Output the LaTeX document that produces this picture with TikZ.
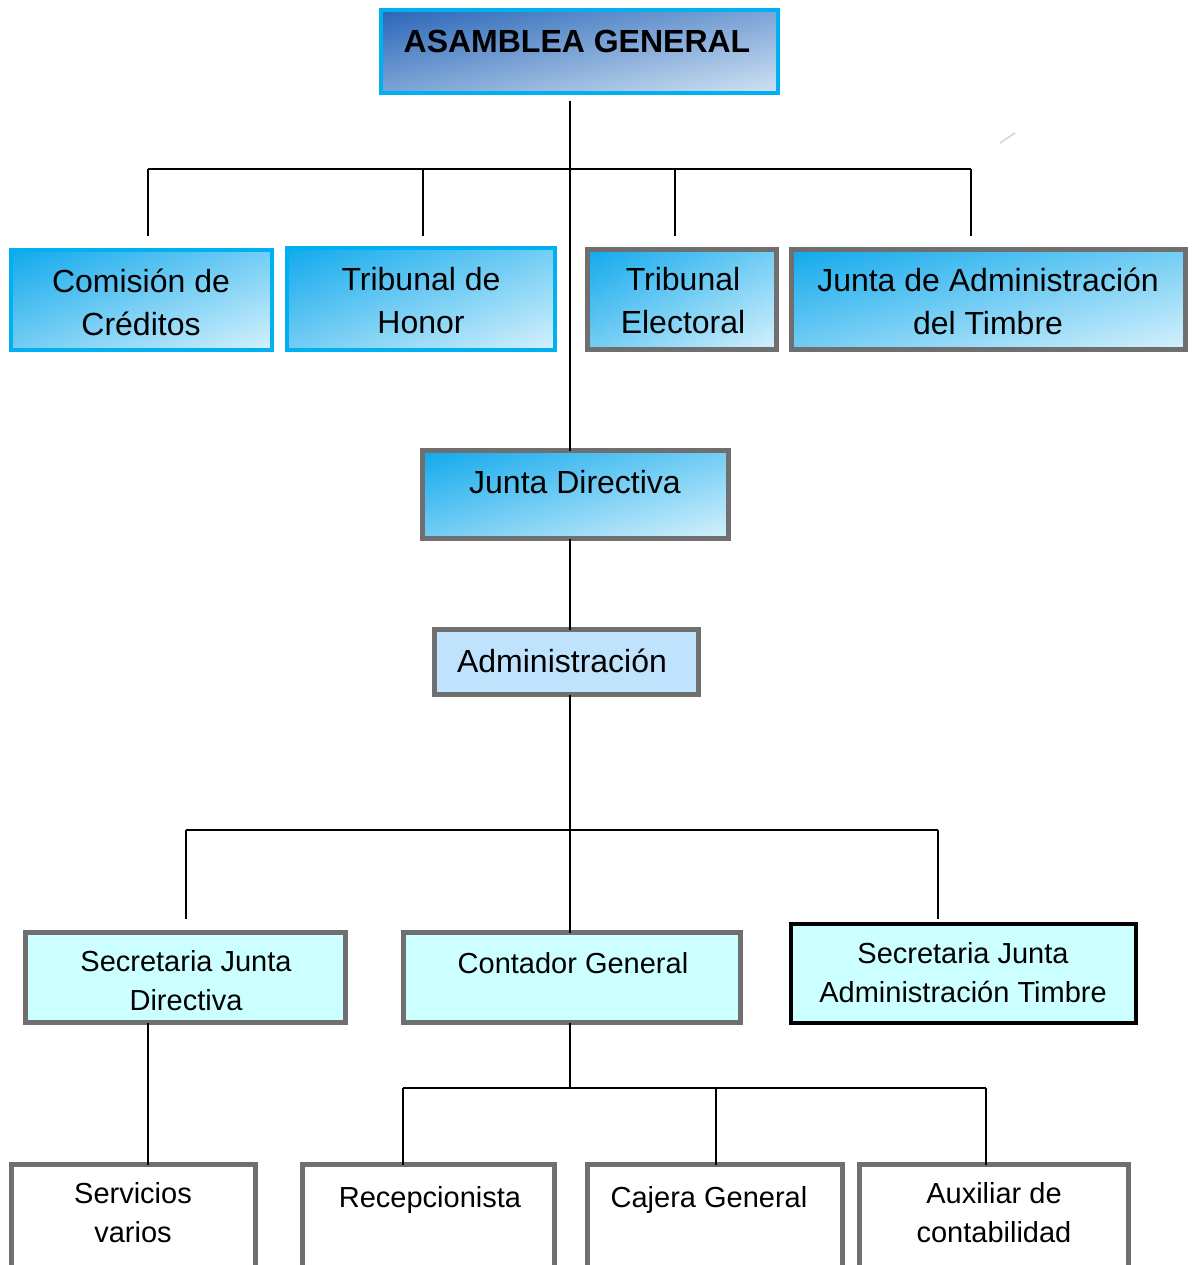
\documentclass[tikz,border=0pt]{standalone}
\usepackage{fontspec}
\setmainfont{Liberation Sans}
\definecolor{cyb}{HTML}{00B0F0}
\definecolor{grb}{HTML}{6F6F6F}
\definecolor{asmA}{HTML}{2A66B8}
\definecolor{asmB}{HTML}{CFE2F3}
\definecolor{cyA}{HTML}{12A9EC}
\definecolor{cyB}{HTML}{D4F1FC}
\definecolor{admF}{HTML}{BFE3FC}
\definecolor{lvF}{HTML}{CCFFFF}
\pgfdeclareverticalshading{diagcy}{100bp}{color(0bp)=(cyB); color(14.6bp)=(cyB); color(85.4bp)=(cyA); color(100bp)=(cyA)}
\pgfdeclareverticalshading{diagasm}{100bp}{color(0bp)=(asmB); color(14.6bp)=(asmB); color(85.4bp)=(asmA); color(100bp)=(asmA)}
% gradient underlay: centre x, centre y, width, height, shading
\newcommand\gradfill[5]{%
  \shade[shading=#5, shading angle=45,
    transform canvas={shift={(#1,#2)}, xscale=#3/100, yscale=#4/100}]
    (-50,-50) rectangle (50,50);}
\tikzset{
  boxbase/.style={rectangle, inner sep=0, outer sep=0},
  cyline/.style={boxbase, draw=cyb, line width=4pt},
  gyline/.style={boxbase, draw=grb, line width=5pt},
  admbox/.style={boxbase, draw=grb, line width=5pt, fill=admF},
  lvbox/.style={boxbase, draw=grb, line width=5pt, fill=lvF},
  blkbox/.style={boxbase, draw=black, line width=4pt, fill=lvF},
  whbox/.style={boxbase, draw=grb, line width=5pt, fill=white},
  bigtxt/.style={inner sep=0, align=center, font=\fontsize{32}{43}\selectfont},
  smtxt/.style={inner sep=0, align=center, font=\fontsize{29}{39}\selectfont},
  conn/.style={draw=black, line width=1.8pt}
}
\begin{document}
\begin{tikzpicture}[x=1pt,y=-1pt]
\useasboundingbox (0,0) rectangle (1191,1265);
\clip (0,0) rectangle (1191,1265);
\fill[white] (0,0) rectangle (1191,1265);

% gradient fills
\gradfill{579.5}{51.5}{397}{83}{diagasm}
\gradfill{141.5}{300}{261}{100}{diagcy}
\gradfill{421}{299}{268}{102}{diagcy}
\gradfill{682}{299.5}{189}{100}{diagcy}
\gradfill{988.5}{299.5}{394}{100}{diagcy}
\gradfill{575.5}{494.5}{306}{88}{diagcy}

% boxes
\node[cyline, minimum width=397pt, minimum height=83pt] (asm) at (579.5,51.5) {};
\node[bigtxt, font=\fontsize{32}{43}\selectfont\bfseries] (asmt) at (577,41) {ASAMBLEA GENERAL};

\node[cyline, minimum width=261pt, minimum height=100pt] (com) at (141.5,300) {};
\node[bigtxt] (comt) at (141,302) {Comisión de\\Créditos};

\node[cyline, minimum width=268pt, minimum height=102pt] (hon) at (421,299) {};
\node[bigtxt] (hont) at (421,301) {Tribunal de\\Honor};

\node[gyline, minimum width=189pt, minimum height=100pt] (ele) at (682,299.5) {};
\node[bigtxt] (elet) at (683,301) {Tribunal\\Electoral};

\node[gyline, minimum width=394pt, minimum height=100pt] (jat) at (988.5,299.5) {};
\node[bigtxt] (jatt) at (988,301) {Junta de Administración\\del Timbre};

\node[gyline, minimum width=306pt, minimum height=88pt] (jd) at (575.5,494.5) {};
\node[bigtxt] (jdt) at (575,482) {Junta Directiva};

\node[admbox, minimum width=264pt, minimum height=65pt] (adm) at (566.5,662) {};
\node[bigtxt] (admt) at (562,661) {Administración};

\node[lvbox, minimum width=320pt, minimum height=90pt] (sjd) at (185.5,977.5) {};
\node[smtxt] (sjdt) at (186,981) {Secretaria Junta\\Directiva};

\node[lvbox, minimum width=337pt, minimum height=90pt] (cg) at (572,977.5) {};
\node[smtxt] (cgt) at (573,963) {Contador General};

\node[blkbox, minimum width=345pt, minimum height=99pt] (sjat) at (963.5,973.5) {};
\node[smtxt] (sjatt) at (963,973) {Secretaria Junta\\Administración Timbre};

\node[whbox, minimum width=244pt, minimum height=120pt] (sv) at (133.5,1224.5) {};
\node[smtxt] (svt) at (133,1213) {Servicios\\varios};

\node[whbox, minimum width=252pt, minimum height=120pt] (rec) at (428.5,1224.5) {};
\node[smtxt] (rect) at (430,1200) {Recepcionista};

\node[whbox, minimum width=255pt, minimum height=120pt] (caj) at (715,1224.5) {};
\node[smtxt] (cajt) at (709,1200) {Cajera General};

\node[whbox, minimum width=269pt, minimum height=120pt] (aux) at (994,1224.5) {};
\node[smtxt] (auxt) at (994,1213) {Auxiliar de\\contabilidad};

% connector coordinates
\coordinate (spine) at (570,169);
\coordinate (b1L) at (148,169);
\coordinate (b1R) at (971,169);
\coordinate (d1a) at (148,236);
\coordinate (d1b) at (423,236);
\coordinate (d1c) at (675,236);
\coordinate (d1d) at (971,236);
\coordinate (top1) at (570,101);

\coordinate (b2) at (570,830);
\coordinate (b2L) at (186,830);
\coordinate (b2R) at (938,830);
\coordinate (d2a) at (186,919);
\coordinate (d2c) at (938,919);

\coordinate (b3) at (570,1088);
\coordinate (b3L) at (403,1088);
\coordinate (b3R) at (986,1088);

% connectors
\draw[conn] (top1) -- (spine |- jd.north);
\draw[conn] (b1L) -- (b1R);
\draw[conn] (b1L) -- (d1a);
\draw[conn] (d1b |- b1L) -- (d1b);
\draw[conn] (d1c |- b1L) -- (d1c);
\draw[conn] (b1R) -- (d1d);

\draw[conn] (spine |- jd.south) -- (spine |- adm.north);
\draw[conn] (spine |- adm.south) -- (spine |- cg.north);
\draw[conn] (b2L) -- (b2R);
\draw[conn] (b2L) -- (d2a);
\draw[conn] (b2R) -- (d2c);

\draw[conn] (148,0 |- sjd.south) -- (148,0 |- sv.north);
\draw[conn] (spine |- cg.south) -- (b3);
\draw[conn] (b3L) -- (b3R);
\draw[conn] (b3L) -- (b3L |- rec.north);
\draw[conn] (716,1088) -- (716,0 |- caj.north);
\draw[conn] (b3R) -- (b3R |- aux.north);

% stray mark
\draw[gray!35, line width=1.5pt] (1000,143) -- (1015,133);
\end{tikzpicture}
\end{document}
